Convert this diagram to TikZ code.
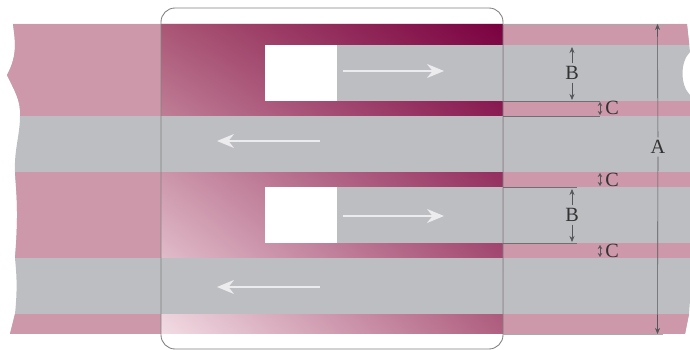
\documentclass[tikz,border=0pt]{standalone}
\usepackage{fontspec}
\setmainfont{Liberation Serif}
\usetikzlibrary{arrows.meta,shadings}
\definecolor{stripepink}{HTML}{CC98AA}
\definecolor{stripegrey}{HTML}{BDBEC2}
\definecolor{flowwhite}{HTML}{ECECEE}
\definecolor{dimgrey}{HTML}{55565A}
\definecolor{shadetl}{HTML}{AA5675}
\definecolor{shadetr}{HTML}{7A0040}
\definecolor{shadebl}{HTML}{F2DCE4}
\definecolor{shadebr}{HTML}{B06080}
\begin{document}
\begin{tikzpicture}[
    x=0.02cm,
    y=-0.02cm,
    flowarrow/.style={
        draw=flowwhite,
        line width=0.9pt,
        -{Stealth[length=3.4mm,width=2.8mm,inset=1.1mm]},
    },
    dimline/.style={
        draw=dimgrey,
        line width=0.3pt,
        {Stealth[length=0.8mm,width=0.9mm]}-{Stealth[length=0.8mm,width=0.9mm]},
    },
    halfdim/.style={
        draw=dimgrey,
        line width=0.35pt,
        -{Stealth[length=1.2mm,width=1mm]},
    },
    extline/.style={draw=dimgrey!85, line width=0.35pt},
    faintline/.style={draw=dimgrey!50, line width=0.35pt},
    dimlabel/.style={
        font=\fontsize{11.5}{12}\selectfont,
        text=black!80,
        inner sep=1.5pt,
    },
    ]
    \useasboundingbox (0,0) rectangle (690,350);
    \begin{scope}
        \clip (13,24) .. controls (15,40) and (18,55) .. (7,75)
            .. controls (14,90) and (21,100) .. (20,116)
            .. controls (20,135) and (14,150) .. (15,172)
            .. controls (16,190) and (19,210) .. (15,258)
            .. controls (16,270) and (18,285) .. (15,314)
            -- (10,334) -- (685,334) -- (689,314) -- (690,300) -- (690,95)
            .. controls (680,85) and (680,62) .. (690,52)
            -- (687,24) -- cycle;
        \fill[stripegrey] (0,0) rectangle (690,350);
        \foreach \ya/\yb in {24/116, 172/258, 314/334} {
            \fill[stripepink] (0,\ya) rectangle (161,\yb);
        }
        \foreach \ya/\yb in {24/45, 101/116, 172/187, 243/258, 314/334} {
            \fill[stripepink] (503,\ya) rectangle (690,\yb);
        }
        \shade[
            upper left=shadetl,
            upper right=shadetr,
            lower left=shadebl,
            lower right=shadebr,
        ] (161,24) rectangle (503,334);
        \foreach \ya/\yb in {116/172, 258/314} {
            \fill[stripegrey] (161,\ya) rectangle (503,\yb);
        }
        \foreach \ya/\yb in {45/101, 187/243} {
            \fill[white] (265,\ya) rectangle (337,\yb);
            \fill[stripegrey] (337,\ya) rectangle (503,\yb);
        }
    \end{scope}
    \draw[draw=black!50, line width=0.5pt, rounded corners=0.28cm] (161,8) rectangle (503,349);
    \foreach \y in {71,216} {
        \coordinate (flowa\y) at (343,\y);
        \coordinate (flowb\y) at (444,\y);
        \draw[flowarrow] (flowa\y) -- (flowb\y);
    }
    \foreach \y in {141,287} {
        \coordinate (backa\y) at (320,\y);
        \coordinate (backb\y) at (217,\y);
        \draw[flowarrow] (backa\y) -- (backb\y);
    }
    \foreach \y/\xend in {101/600, 116/600, 187/577, 243/577} {
        \coordinate (exta\y) at (503,\y);
        \coordinate (extb\y) at (\xend,\y);
        \draw[extline] (exta\y) -- (extb\y);
    }
    \foreach \y/\xend in {24/665, 334/663} {
        \coordinate (exta\y) at (503,\y);
        \coordinate (extb\y) at (\xend,\y);
        \draw[faintline] (exta\y) -- (extb\y);
    }
    \node[dimlabel] (labelA) at (658,147) {A};
    \coordinate (topA) at (657.5,24);
    \coordinate (botA) at (657.5,334);
    \draw[halfdim] (labelA) -- (topA);
    \draw[halfdim] (labelA) -- (botA);
    \foreach \name/\y/\ya/\yb in {one/73/47/100, two/215/189/242} {
        \node[dimlabel] (labelB\name) at (572,\y) {B};
        \coordinate (topB\name) at (572,\ya);
        \coordinate (botB\name) at (572,\yb);
        \draw[halfdim] (labelB\name) -- (topB\name);
        \draw[halfdim] (labelB\name) -- (botB\name);
    }
    \foreach \name/\y/\ya/\yb in {one/108/102/115, two/180/173/186, three/251/245/257} {
        \node[dimlabel] (labelC\name) at (612,\y) {C};
        \coordinate (topC\name) at (600,\ya);
        \coordinate (botC\name) at (600,\yb);
        \draw[dimline] (topC\name) -- (botC\name);
    }
\end{tikzpicture}
\end{document}
